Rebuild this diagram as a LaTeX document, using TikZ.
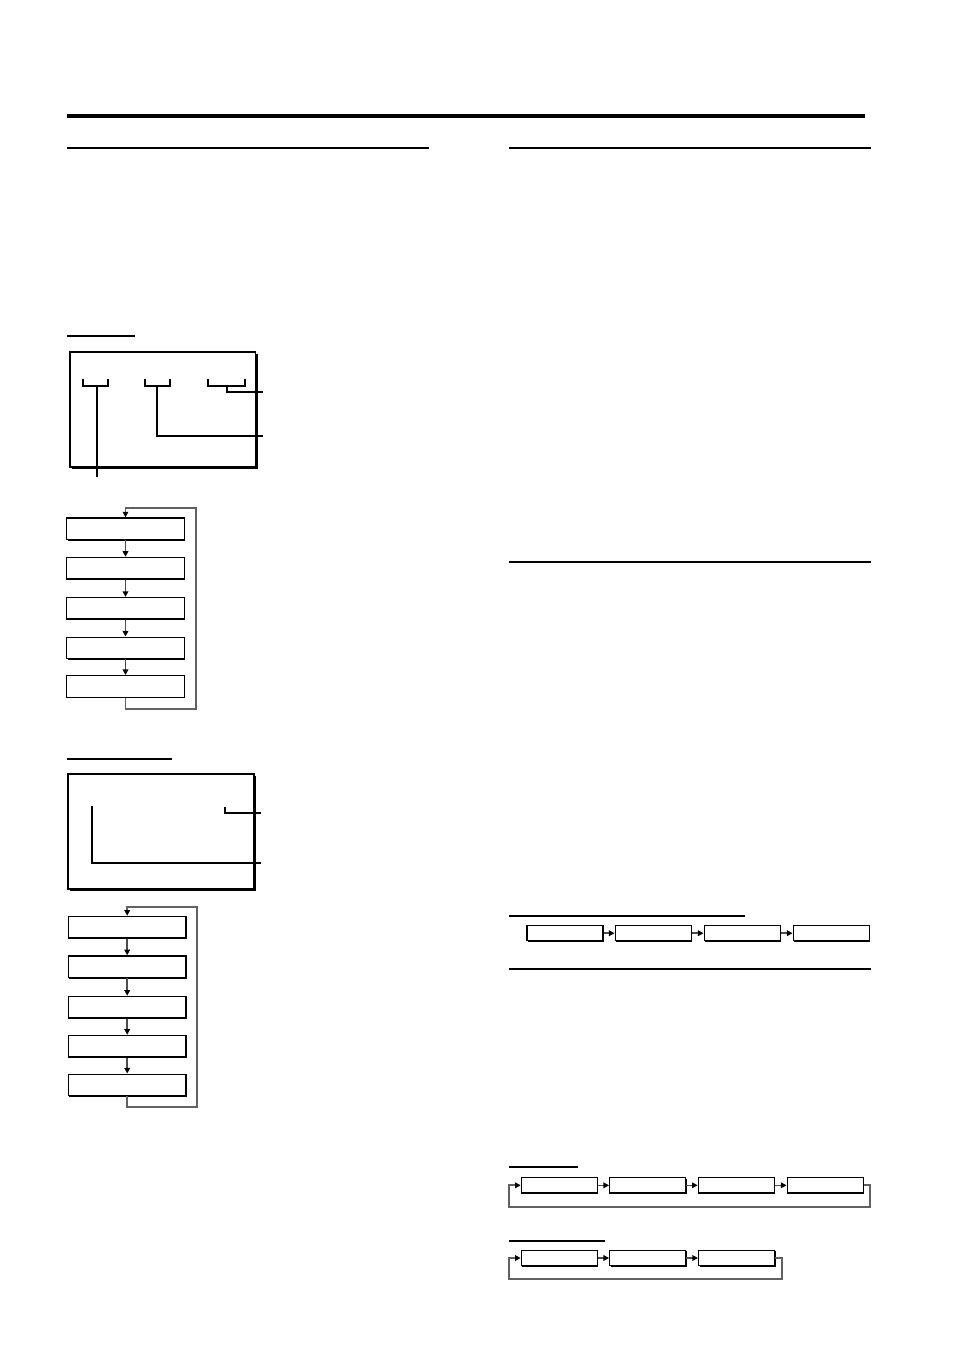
\documentclass[tikz,border=0pt]{standalone}
\usepackage{tikz}
\usetikzlibrary{arrows.meta,shadows}

\begin{document}
\begin{tikzpicture}[x=0.5pt,y=-0.5pt]
    \useasboundingbox (0,0) rectangle (953,1352);

    % page rules
    \draw [line width=2.4pt] (67,116) -- (865,116);
    \begin{scope}[line width=1.2pt]
        \draw (67,148) -- (429,148);
        \draw (509,148) -- (871,148);
        \draw (509,562) -- (871,562);
        \draw (509,969) -- (871,969);
    \end{scope}
    \begin{scope}[line width=0.6pt]
        \draw (67,336) -- (135,336);
        \draw (67,759) -- (172,759);
        \draw (509,916) -- (745,916);
        \draw (509,1167) -- (578,1167);
        \draw (509,1241) -- (605,1241);
    \end{scope}

    % display panels
    \begin{scope}[every node/.style={draw, fill=white, line width=0.85pt, inner sep=0pt,
            drop shadow={shadow xshift=1pt, shadow yshift=-1pt, fill=black, opacity=1}}]
        \node (disp1) at (162.8,409.3) [minimum width=92.8pt, minimum height=57.6pt] {};
        \node (disp2) at (161,831.8) [minimum width=92.7pt, minimum height=57.5pt] {};
    \end{scope}
    \begin{scope}[line width=1.15pt]
        \draw (82.7,379.3) -- (82.7,386) -- (108.3,386) -- (108.3,379.3);
        \draw (96.7,386) -- (96.7,477);
        \draw (144.7,379.3) -- (144.7,386) -- (170.3,386) -- (170.3,379.3);
        \draw (156.7,386) |- (262.7,436);
        \draw (207.7,379.3) -- (207.7,386) -- (245.3,386) -- (245.3,379.3);
        \draw (226.7,386) |- (262.7,391.7);

        \draw (92,806) |- (261,862.7);
        \draw (224.7,807) |- (261,812.7);
    \end{scope}

    % loop corners
    \coordinate (a5b) at (196,709);
    \coordinate (a1t) at (196,508);
    \coordinate (b5b) at (197,1107.3);
    \coordinate (b1t) at (197,906.7);
    \coordinate (r4b) at (870,1206.7);
    \coordinate (r1b) at (509.3,1206.7);
    \coordinate (s3b) at (782.3,1279.3);
    \coordinate (s1b) at (509.3,1279.3);

    % vertical charts
    \begin{scope}[every node/.style={draw, fill=white, line width=0.65pt, inner sep=0pt,
            minimum width=58.8pt, minimum height=10.8pt,
            drop shadow={shadow xshift=0.5pt, shadow yshift=-0.5pt, fill=black, opacity=1}}]
        \node (a1) at (125.5,528.8) {};
        \node (a2) at (125.5,568.2) {};
        \node (a3) at (125.5,608.3) {};
        \node (a4) at (125.5,648) {};
        \node (a5) at (125.5,686.5) {};

        \node (b1) at (127.2,927.2) {};
        \node (b2) at (127.2,966.7) {};
        \node (b3) at (127.2,1007.2) {};
        \node (b4) at (127.2,1046.2) {};
        \node (b5) at (127.2,1085) {};
    \end{scope}

    % horizontal charts
    \begin{scope}[every node/.style={draw, fill=white, line width=0.65pt, inner sep=0pt,
            minimum width=38pt, minimum height=7.6pt,
            drop shadow={shadow xshift=0.5pt, shadow yshift=-0.5pt, fill=black, opacity=1}}]
        \node (h1) at (565,933.2) {};
        \node (h2) at (653.2,933.2) {};
        \node (h3) at (742.2,933.2) {};
        \node (h4) at (831.2,933.2) {};

        \node (r1) at (559.3,1185.3) {};
        \node (r2) at (647.7,1185.3) {};
        \node (r3) at (736.3,1185.3) {};
        \node (r4) at (825.2,1185.3) {};

        \node (s1) at (559.3,1258) {};
        \node (s2) at (647.7,1258) {};
        \node (s3) at (736.6,1258) {};
    \end{scope}

    \begin{scope}[every edge/.style={draw, black!70, line width=0.75pt,
            -{Triangle[black,length=2.8pt,width=2.8pt]}}]
        \path (a1) edge (a2);
        \path (a2) edge (a3);
        \path (a3) edge (a4);
        \path (a4) edge (a5);

        \path (b1) edge (b2);
        \path (b2) edge (b3);
        \path (b3) edge (b4);
        \path (b4) edge (b5);

        \path (h1) edge (h2);
        \path (h2) edge (h3);
        \path (h3) edge (h4);

        \path (r1) edge (r2);
        \path (r2) edge (r3);
        \path (r3) edge (r4);

        \path (s1) edge (s2);
        \path (s2) edge (s3);
    \end{scope}

    % return loops
    \begin{scope}[black!62, line width=0.9pt, -{Triangle[black,length=2.8pt,width=2.8pt]}]
        \draw (a5.south) |- (a5b) -- (a1t) -| (a1.north);
        \draw (b5.south) |- (b5b) -- (b1t) -| (b1.north);
        \draw (r4.east) -| (r4b) -- (r1b) |- (r1.west);
        \draw (s3.east) -| (s3b) -- (s1b) |- (s1.west);
    \end{scope}
\end{tikzpicture}
\end{document}
